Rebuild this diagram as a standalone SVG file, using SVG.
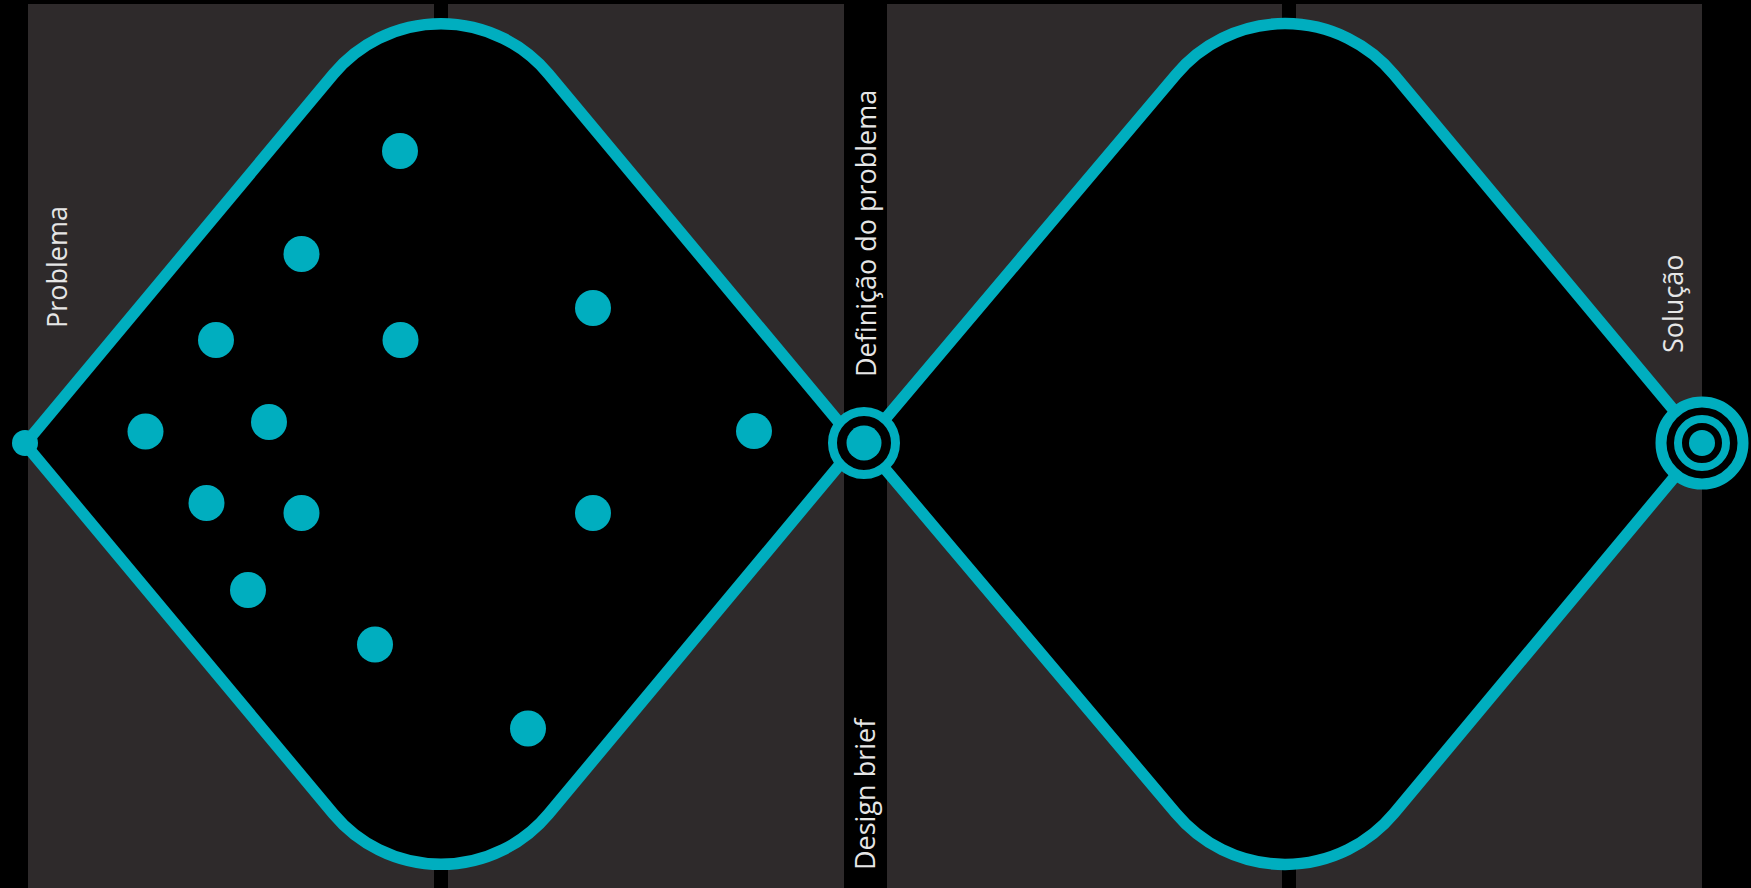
<svg xmlns="http://www.w3.org/2000/svg" width="1751" height="888" viewBox="0 0 1751 888">
  <style>
    .panel { fill: #2e2a2b; }
    .diamond { fill: #000000; stroke: #00aebf; stroke-width: 11.5; stroke-linejoin: round; }
    .dot { fill: #00aebf; }
    .ring { fill: #000000; stroke: #00aebf; }
    .label { font-family: "Open Sans", "Noto Sans", "Liberation Sans", sans-serif; font-size: 27px; fill: #e6e6e6; }
  </style>
  <rect x="0" y="0" width="1751" height="888" fill="#000000"/>
  <g id="panels">
    <rect class="panel" x="28" y="4" width="406" height="884"/>
    <rect class="panel" x="448" y="4" width="396" height="884"/>
    <rect class="panel" x="887" y="4" width="395" height="884"/>
    <rect class="panel" x="1296" y="4" width="406" height="884"/>
  </g>
  <g id="diamond-discover">
    <path class="diamond" d="M 25 444 L 333.5 74 A 140 140 0 0 1 548.5 74 L 857 444 L 548.5 814 A 140 140 0 0 1 333.5 814 Z"/>
    <g id="ideas">
      <circle class="dot" cx="400" cy="151" r="18"/>
      <circle class="dot" cx="301.5" cy="254" r="18"/>
      <circle class="dot" cx="216" cy="340" r="18"/>
      <circle class="dot" cx="400.5" cy="340" r="18"/>
      <circle class="dot" cx="593" cy="308" r="18"/>
      <circle class="dot" cx="145.5" cy="431.5" r="18"/>
      <circle class="dot" cx="269" cy="422" r="18"/>
      <circle class="dot" cx="754" cy="431" r="18"/>
      <circle class="dot" cx="206.5" cy="503" r="18"/>
      <circle class="dot" cx="301.5" cy="513" r="18"/>
      <circle class="dot" cx="593" cy="513" r="18"/>
      <circle class="dot" cx="248" cy="590" r="18"/>
      <circle class="dot" cx="375" cy="644.5" r="18"/>
      <circle class="dot" cx="528" cy="728.5" r="18"/>
    </g>
  </g>
  <g id="diamond-develop">
    <path class="diamond" d="M 864 444 L 1176 74.6 A 142 142 0 0 1 1394 74.6 L 1702 444 L 1394 813.4 A 142 142 0 0 1 1176 813.4 Z"/>
  </g>
  <g id="node-problema">
    <circle class="dot" cx="25" cy="443" r="13"/>
    <text class="label" transform="translate(67 328) rotate(-90)">Problema</text>
  </g>
  <g id="node-definicao">
    <circle class="ring" cx="864" cy="443" r="31.5" stroke-width="9"/>
    <circle class="dot" cx="864" cy="443" r="17.5"/>
    <text class="label" transform="translate(876 377) rotate(-90)">Definição do problema</text>
    <text class="label" transform="translate(875 870) rotate(-90)">Design brief</text>
  </g>
  <g id="node-solucao">
    <circle class="ring" cx="1702" cy="443" r="41" stroke-width="11"/>
    <circle class="ring" cx="1702" cy="443" r="24" stroke-width="8"/>
    <circle class="dot" cx="1702" cy="443" r="13"/>
    <text class="label" transform="translate(1683 353) rotate(-90)">Solução</text>
  </g>
  <g id="connectors"></g>
</svg>
